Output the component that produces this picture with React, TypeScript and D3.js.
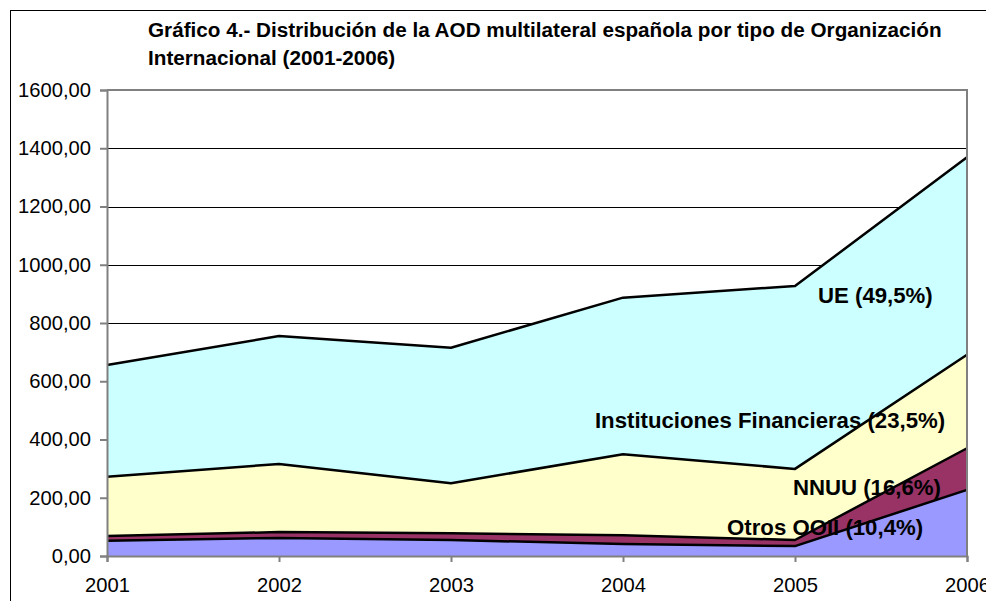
import { useEffect, useRef } from "react";
import * as d3 from "d3";

const years = [2001, 2002, 2003, 2004, 2005, 2006];
const otros = [52, 62, 55, 41, 34, 227];
const nnuu = [17, 20, 23, 30, 21, 143];
const financieras = [203, 234, 172, 278, 244, 321];
const ue = [384, 439, 465, 538, 628, 678];
const yTicks = [0, 200, 400, 600, 800, 1000, 1200, 1400, 1600];

const seriesKeys = ["otros", "nnuu", "financieras", "ue"];
const seriesColors: Record<string, string> = {
  otros: "#9999ff",
  nnuu: "#993366",
  financieras: "#ffffcc",
  ue: "#ccffff",
};

const titleLines = [
  "Gráfico 4.- Distribución de la AOD multilateral española por tipo de Organización",
  "Internacional (2001-2006)",
];

// label anchor in data units (year, value)
const labels = [
  { text: "UE (49,5%)", year: 2005.134, value: 896 },
  { text: "Instituciones Financieras (23,5%)", year: 2003.837, value: 467 },
  { text: "NNUU (16,6%)", year: 2004.988, value: 237 },
  { text: "Otros OOII (10,4%)", year: 2004.605, value: 100 },
];

export default function App() {
  const svgRef = useRef<SVGSVGElement | null>(null);

  useEffect(() => {
    if (!svgRef.current) return;
    const width = 986;
    const height = 601;
    const margin = { top: 90, right: 19, bottom: 45, left: 107 };
    const font = "'Liberation Sans', Arial, sans-serif";

    const svg = d3.select(svgRef.current);
    svg.selectAll("*").remove();

    const data = years.map((y, i) => ({
      year: y,
      otros: otros[i],
      nnuu: nnuu[i],
      financieras: financieras[i],
      ue: ue[i],
    }));

    const x = d3
      .scaleLinear()
      .domain([2001, 2006])
      .range([margin.left, width - margin.right]);
    const y = d3
      .scaleLinear()
      .domain([0, 1600])
      .range([height - margin.bottom, margin.top]);

    // outer chart frame
    svg
      .append("rect")
      .attr("x", 10.5)
      .attr("y", 10.5)
      .attr("width", 1000)
      .attr("height", 1000)
      .attr("fill", "white")
      .attr("stroke", "black")
      .attr("stroke-width", 1);

    // title
    svg
      .append("g")
      .selectAll("text")
      .data(titleLines)
      .join("text")
      .attr("x", 148)
      .attr("y", (d, i) => 37 + i * 28)
      .attr("font-family", font)
      .attr("font-weight", "bold")
      .attr("font-size", 20.7)
      .text((d) => d);

    // gridlines
    svg
      .append("g")
      .selectAll("line")
      .data(yTicks.slice(1))
      .join("line")
      .attr("x1", margin.left)
      .attr("x2", width - margin.right)
      .attr("y1", (d) => Math.round(y(d)) + 0.5)
      .attr("y2", (d) => Math.round(y(d)) + 0.5)
      .attr("stroke", "#000")
      .attr("stroke-width", 1);

    const stack = d3.stack<any>().keys(seriesKeys);
    const stacked = stack(data);

    const area = d3
      .area<any>()
      .x((d) => x(d.data.year))
      .y0((d) => y(d[0]))
      .y1((d) => y(d[1]));

    const line = d3
      .line<any>()
      .x((d) => x(d.data.year))
      .y((d) => y(d[1]));

    svg
      .append("g")
      .selectAll("path")
      .data(stacked)
      .join("path")
      .attr("d", (s) => area(s) as string)
      .attr("fill", (s) => seriesColors[s.key]);

    svg
      .append("g")
      .selectAll("path")
      .data(stacked)
      .join("path")
      .attr("d", (s) => line(s) as string)
      .attr("fill", "none")
      .attr("stroke", "black")
      .attr("stroke-width", 2.5)
      .attr("stroke-linejoin", "round");

    // plot border (top and right)
    svg
      .append("path")
      .attr(
        "d",
        `M${margin.left},${margin.top}H${width - margin.right}V${height - margin.bottom}`
      )
      .attr("fill", "none")
      .attr("stroke", "#808080")
      .attr("stroke-width", 2);

    // axes
    const yAxis = svg
      .append("g")
      .attr("transform", `translate(${margin.left},0)`)
      .call(
        d3
          .axisLeft(y)
          .tickValues(yTicks)
          .tickSize(7)
          .tickPadding(9)
          .tickFormat((d) => d3.format(".2f")(d as number).replace(".", ","))
      );
    const xAxis = svg
      .append("g")
      .attr("transform", `translate(0,${height - margin.bottom})`)
      .call(
        d3
          .axisBottom(x)
          .tickValues(years)
          .tickSize(6)
          .tickPadding(16)
          .tickFormat((d) => String(d))
      );
    [yAxis, xAxis].forEach((g) => {
      g.selectAll("path, line").attr("stroke", "#808080").attr("stroke-width", 2);
      g.selectAll("text")
        .attr("font-family", font)
        .attr("font-size", 20.2)
        .attr("fill", "black");
    });

    // series labels
    svg
      .append("g")
      .selectAll("text")
      .data(labels)
      .join("text")
      .attr("x", (d) => x(d.year))
      .attr("y", (d) => y(d.value))
      .attr("dy", "0.35em")
      .attr("font-family", font)
      .attr("font-weight", "bold")
      .attr("font-size", 22.2)
      .text((d) => d.text);
  }, []);

  return (
    <svg
      ref={svgRef}
      width={986}
      height={601}
      style={{ position: "absolute", left: 0, top: 0, display: "block" }}
    ></svg>
  );
}
